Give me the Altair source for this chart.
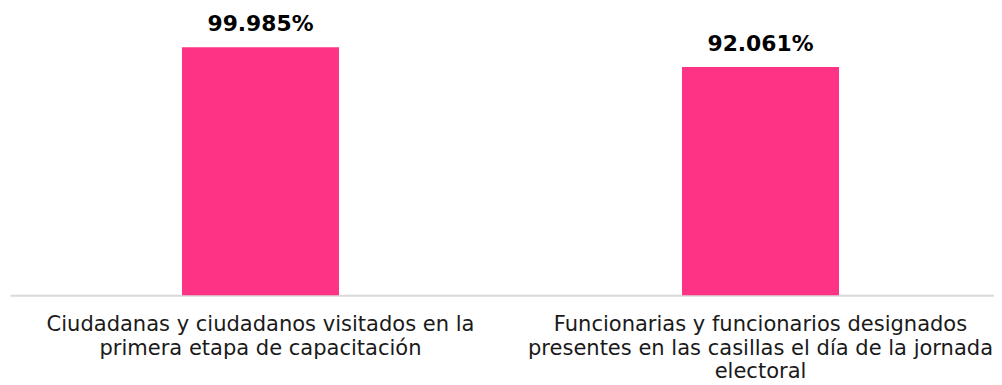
import altair as alt
import pandas as pd

categories = [
    "Ciudadanas y ciudadanos visitados en la|primera etapa de capacitación",
    "Funcionarias y funcionarios designados|presentes en las casillas el día de la jornada|electoral",
]
values = [99.985, 92.061]
labels = ["99.985%", "92.061%"]

df = pd.DataFrame({"cat": categories, "val": values, "lab": labels})

x = alt.X(
    "cat:N",
    sort=None,
    title=None,
    scale=alt.Scale(paddingInner=0.686, paddingOuter=0.327, align=0.526),
    axis=alt.Axis(
        labelAngle=0,
        labelExpr="split(datum.label, '|')",
        labelFont="DejaVu Sans",
        labelFontSize=21.2,
        labelColor="#1a1a1a",
        labelLineHeight=23.5,
        labelLimit=0,
        labelPadding=19,
        labelBaseline="top",
        ticks=False,
        domainColor="#d9d9d9",
        domainWidth=2,
    ),
)
y = alt.Y("val:Q", scale=alt.Scale(domain=[0, 110]), axis=None)

bars = alt.Chart(df).mark_bar(color="#FF3385").encode(x=x, y=y)
text = alt.Chart(df).mark_text(
    font="DejaVu Sans", fontSize=22, fontWeight="bold", color="#000000",
    baseline="alphabetic", dy=-16,
).encode(x=alt.X("cat:N", sort=None), y=y, text="lab:N")

chart = alt.layer(bars, text).properties(
    width=992, height=275,
    autosize=alt.AutoSizeParams(type="none"),
    padding={"left": 2, "top": 13, "right": 0, "bottom": 89},
).configure_view(stroke=None)

chart.save("out.html", embed_options={"renderer": "svg", "actions": False})
